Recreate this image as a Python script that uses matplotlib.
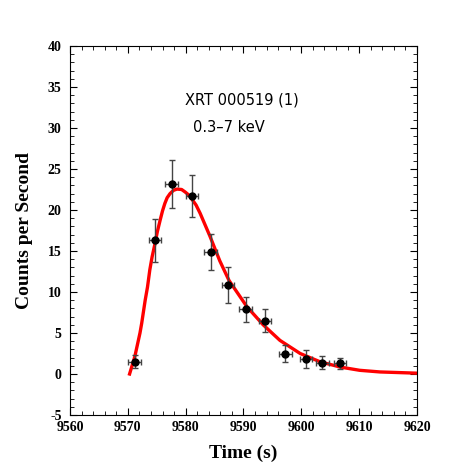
import numpy as np
import matplotlib
matplotlib.use("Agg")
import matplotlib.pyplot as plt
from matplotlib.ticker import MultipleLocator

plt.rcParams["axes.unicode_minus"] = False

time_s = [9571.2, 9574.7, 9577.6, 9581.1, 9584.3, 9587.3,
          9590.4, 9593.7, 9597.2, 9600.8, 9603.6, 9606.7]
rate = [1.5, 16.3, 23.2, 21.7, 14.9, 10.9,
        7.9, 6.5, 2.5, 1.8, 1.4, 1.3]
rate_err = [0.8, 2.6, 2.9, 2.6, 2.2, 2.2,
            1.5, 1.4, 1.0, 1.1, 0.8, 0.7]
time_err = [1.1, 1.1, 1.1, 1.1, 1.1, 1.1,
            1.1, 1.1, 1.1, 1.1, 1.1, 1.1]

# fitted pulse model
model_t = [9570.3, 9571.2, 9572.1, 9572.4, 9573.0, 9573.4, 9573.8, 9574.2,
           9574.7, 9575.1, 9575.6, 9576.0, 9576.4, 9576.8, 9577.3, 9577.9,
           9578.5, 9579.3, 9579.9, 9580.5, 9581.0, 9581.8, 9582.5, 9584.2,
           9585.9, 9587.5, 9590.6, 9593.4, 9596.3, 9599.8, 9603.2, 9606.7,
           9610.1, 9613.6, 9620.0]
model_rate = [0.0, 2.1, 5.0, 6.2, 9.0, 10.6, 12.7, 14.3,
              15.9, 17.35, 18.8, 19.9, 20.8, 21.5, 22.0, 22.4,
              22.55, 22.5, 22.2, 21.85, 21.4, 20.6, 19.6, 16.8,
              13.8, 11.4, 8.2, 6.0, 4.1, 2.5, 1.5, 0.85,
              0.45, 0.25, 0.1]

fig = plt.figure(figsize=(4.63, 4.63), dpi=100)
ax = fig.add_axes([70 / 463, 1 - 415 / 463, 347 / 463, 369 / 463])

ax.plot(model_t, model_rate, color="red", lw=2.4, zorder=2)
ax.errorbar(time_s, rate, yerr=rate_err, xerr=time_err, fmt="o",
            color="black", ms=5, ecolor="#444444", elinewidth=1.0,
            capsize=2.5, capthick=1.0, zorder=3)

ax.set_xlim(9560, 9620)
ax.set_ylim(-5, 40)
ax.xaxis.set_major_locator(MultipleLocator(10))
ax.xaxis.set_minor_locator(MultipleLocator(2))
ax.yaxis.set_major_locator(MultipleLocator(5))
ax.yaxis.set_minor_locator(MultipleLocator(1))
ax.tick_params(which="both", direction="in", top=True, right=True)
ax.tick_params(which="major", length=5, width=0.8)
ax.tick_params(which="minor", length=3, width=0.6)
ax.tick_params(axis="x", pad=4)
ax.tick_params(axis="y", pad=6)

for lab in ax.get_xticklabels() + ax.get_yticklabels():
    lab.set_fontfamily("Liberation Serif")
    lab.set_fontweight("bold")
    lab.set_fontsize(10)

ax.set_xlabel("Time (s)", fontfamily="Liberation Serif", fontweight="bold",
              fontsize=14, labelpad=8)
ax.set_ylabel("Counts per Second", fontfamily="Liberation Serif",
              fontweight="bold", fontsize=14, labelpad=11)

ax.text(0.33, 0.842, "XRT 000519 (1)", transform=ax.transAxes,
        fontsize=10.5, fontfamily="DejaVu Sans")
ax.text(0.355, 0.767, "0.3\u20137 keV", transform=ax.transAxes,
        fontsize=10.5, fontfamily="DejaVu Sans")

fig.savefig("out.png", dpi=100)
